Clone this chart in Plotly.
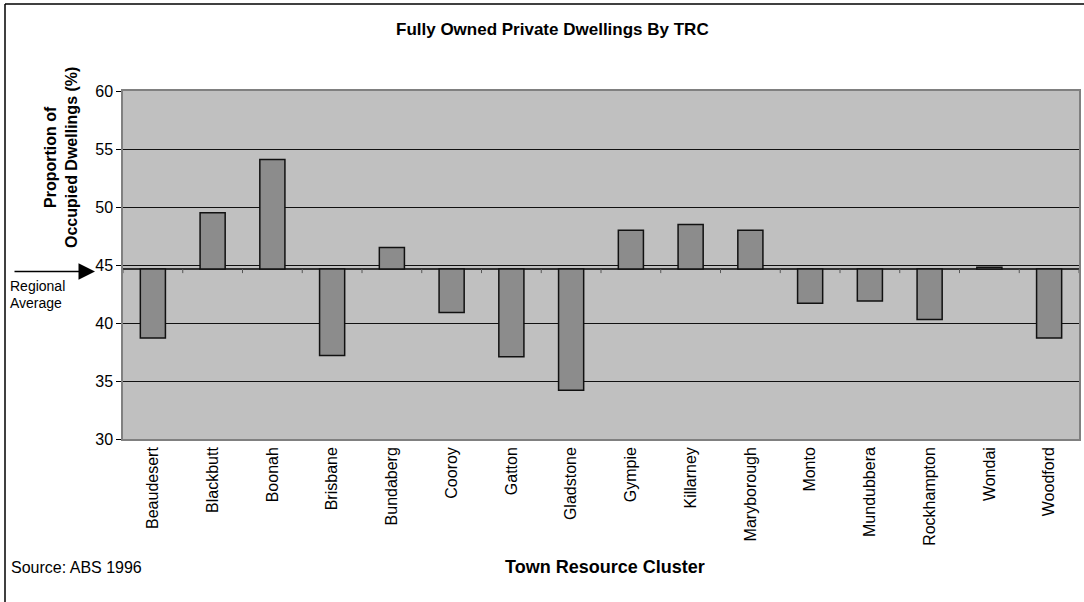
import plotly.graph_objects as go

categories = ["Beaudesert", "Blackbutt", "Boonah", "Brisbane", "Bundaberg", "Cooroy",
              "Gatton", "Gladstone", "Gympie", "Killarney", "Maryborough", "Monto",
              "Mundubbera", "Rockhampton", "Wondai", "Woodford"]
values = [38.7, 49.5, 54.1, 37.2, 46.5, 40.9, 37.1, 34.2, 48.0, 48.5, 48.0, 41.7,
          41.9, 40.3, 44.8, 38.7]
regional_average = 44.65
y_ticks = [30, 35, 40, 45, 50, 55, 60]

FONT = "Arial, Liberation Sans, sans-serif"
W, H = 1084, 602
L, R, T, B = 123, 5, 91, 163
pw, ph = W - L - R, H - T - B

def px(xp):
    return (xp - L) / pw

def py(yp):
    return 1 - (yp - T) / ph

fig = go.Figure()
fig.add_trace(go.Bar(
    x=categories,
    y=[v - regional_average for v in values],
    base=regional_average,
    width=0.42,
    marker=dict(color="#8c8c8c", line=dict(color="#111111", width=1.5)),
    hoverinfo="skip",
))

shapes = []
shapes.append(dict(type="line", xref="paper", yref="y", x0=0, x1=1,
                   y0=regional_average, y1=regional_average,
                   line=dict(color="black", width=1.5), layer="below"))
for i in range(len(categories) + 1):
    shapes.append(dict(type="line", xref="x", yref="y", x0=i - 0.5, x1=i - 0.5,
                       y0=regional_average, y1=regional_average - 0.35,
                       line=dict(color="#555555", width=1), layer="below"))
shapes.append(dict(type="line", xref="paper", yref="paper", x0=px(5), x1=px(5),
                   y0=py(4), y1=py(620), line=dict(color="black", width=1.5)))
shapes.append(dict(type="line", xref="paper", yref="paper", x0=px(5), x1=px(1090),
                   y0=py(4), y1=py(4), line=dict(color="black", width=1.5)))

annotations = [
    dict(text="<b>Fully Owned Private Dwellings By TRC</b>", xref="paper", yref="paper",
         x=px(552), y=py(29), xanchor="center", yanchor="middle", showarrow=False,
         font=dict(family=FONT, size=17, color="black")),
    dict(text="<b>Proportion of<br>Occupied Dwellings (%)</b>", xref="paper", yref="paper",
         x=px(61), y=py(158), xanchor="center", yanchor="middle", showarrow=False,
         textangle=-90, align="center",
         font=dict(family=FONT, size=16, color="black")),
    dict(text="<b>Town Resource Cluster</b>", xref="paper", yref="paper",
         x=px(605), y=py(567), xanchor="center", yanchor="middle", showarrow=False,
         font=dict(family=FONT, size=18, color="black")),
    dict(text="Source: ABS 1996", xref="paper", yref="paper",
         x=px(9), y=py(567), xanchor="left", yanchor="middle", showarrow=False,
         font=dict(family=FONT, size=16, color="black")),
    dict(text="Regional", xref="paper", yref="paper",
         x=px(8), y=py(286), xanchor="left", yanchor="middle", showarrow=False,
         font=dict(family=FONT, size=14, color="black")),
    dict(text="Average", xref="paper", yref="paper",
         x=px(8), y=py(303), xanchor="left", yanchor="middle", showarrow=False,
         font=dict(family=FONT, size=14, color="black")),
    dict(text="", xref="paper", yref="paper", x=px(95), y=py(271.5),
         ax=-82, ay=0, showarrow=True, arrowhead=2, arrowsize=2.2, arrowwidth=1.5,
         arrowcolor="black"),
]

fig.update_layout(
    width=W, height=H,
    margin=dict(l=L, r=R, t=T, b=B, autoexpand=False),
    paper_bgcolor="white",
    plot_bgcolor="#c0c0c0",
    showlegend=False,
    shapes=shapes,
    annotations=annotations,
    font=dict(family=FONT, size=14, color="black"),
    xaxis=dict(
        type="category", range=[-0.5, len(categories) - 0.5],
        tickangle=-90, ticks="", showgrid=False, zeroline=False,
        showline=True, linecolor="#808080", linewidth=1.5, mirror=True,
        tickfont=dict(family=FONT, size=16, color="black"),
        ticklabelstandoff=0,
    ),
    yaxis=dict(
        range=[30, 60], tickvals=y_ticks, ticks="outside", ticklen=5,
        tickcolor="black", showgrid=True, gridcolor="#111111", gridwidth=1,
        zeroline=False, showline=True, linecolor="#808080", linewidth=1.5,
        mirror=True, tickfont=dict(family=FONT, size=16, color="black"),
    ),
)

fig.write_html("out.html", config={"displayModeBar": False},
               post_script="document.body.style.margin='0';document.body.style.overflow='hidden';")
